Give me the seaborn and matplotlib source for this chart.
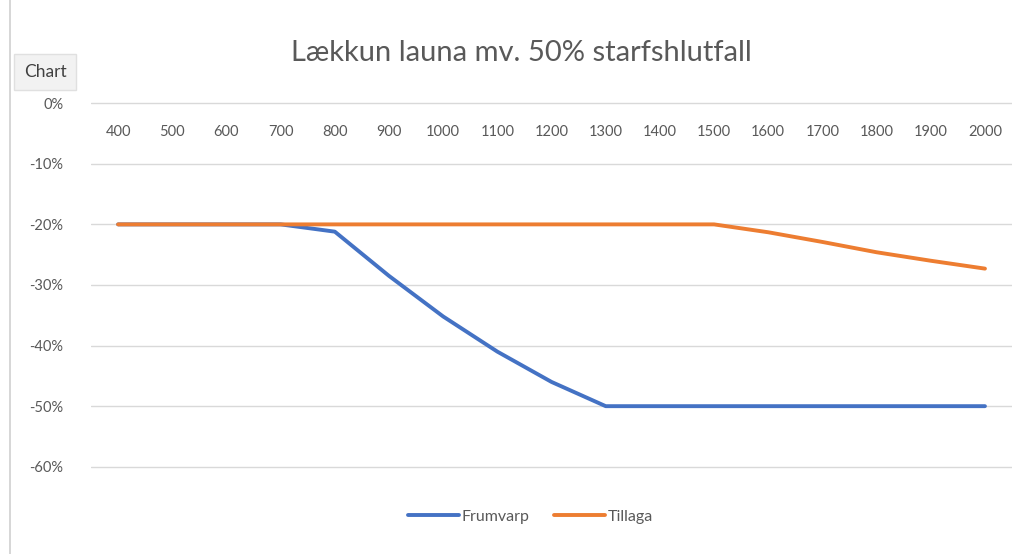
import matplotlib
import matplotlib.pyplot as plt
import pandas as pd
import seaborn as sns
from matplotlib.lines import Line2D
from matplotlib.ticker import FuncFormatter

matplotlib.use("Agg")

wages = [400, 500, 600, 700, 800, 900, 1000, 1100, 1200, 1300,
         1400, 1500, 1600, 1700, 1800, 1900, 2000]
frumvarp = [-0.20, -0.20, -0.20, -0.20, -0.212, -0.285, -0.352, -0.41, -0.46, -0.50,
            -0.50, -0.50, -0.50, -0.50, -0.50, -0.50, -0.50]
tillaga = [-0.20, -0.20, -0.20, -0.20, -0.20, -0.20, -0.20, -0.20, -0.20, -0.20,
           -0.20, -0.20, -0.213, -0.229, -0.246, -0.26, -0.273]
series_names = ["Frumvarp", "Tillaga"]
colors = ["#4472C4", "#ED7D31"]
y_ticks = [0, -0.1, -0.2, -0.3, -0.4, -0.5, -0.6]

df = pd.DataFrame({
    "wage": wages * 2,
    "value": frumvarp + tillaga,
    "series": [series_names[0]] * len(wages) + [series_names[1]] * len(wages),
})

sns.set_theme(style="white")
plt.rcParams["font.family"] = ["Lato", "DejaVu Sans"]

fig = plt.figure(figsize=(10.26, 5.54), dpi=100)
ax = fig.add_axes([0.0887, 0.152, 0.8977, 0.665])

sns.lineplot(data=df, x="wage", y="value", hue="series", palette=colors,
             hue_order=series_names, linewidth=2.8, ax=ax, legend=False, zorder=3)

ax.set_xlim(350, 2050)
ax.set_ylim(-0.605, 0.003)
ax.set_yticks(y_ticks)
ax.yaxis.set_major_formatter(FuncFormatter(lambda v, _: f"{v:.0%}".replace("−", "-")))
ax.set_xticks(wages)
ax.set_xticklabels([str(w) for w in wages])
ax.grid(axis="y", color="#D9D9D9", linewidth=1)
for s in ax.spines.values():
    s.set_visible(False)
ax.tick_params(axis="y", length=0, labelsize=10.5, labelcolor="#595959", pad=20)
ax.tick_params(axis="x", length=0, labelsize=10.5, labelcolor="#595959",
               bottom=False, labelbottom=False, top=False, labeltop=True, pad=-27)
ax.set_xlabel("")
ax.set_ylabel("")

fig.text(0.508, 0.905, "Lækkun launa mv. 50% starfshlutfall", ha="center", va="center",
         fontsize=21, color="#595959")

handles = [Line2D([], [], color=c, linewidth=2.8) for c in colors]
fig.legend(handles, series_names, loc="center", bbox_to_anchor=(0.517, 0.067),
           ncol=2, frameon=False, fontsize=11.5, handlelength=3.2, handletextpad=0.2,
           columnspacing=1.5, labelcolor="#595959")

fig.text(0.044, 0.87, "Chart", fontsize=12.5, color="#404040", ha="center", va="center",
         bbox=dict(boxstyle="square,pad=0.55", facecolor="#F2F2F2", edgecolor="#E0E0E0"))
fig.add_artist(Line2D([0.01, 0.01], [0.0, 1.0], color="#D0D0D0", linewidth=1.2))

fig.savefig("out.png", dpi=100)
